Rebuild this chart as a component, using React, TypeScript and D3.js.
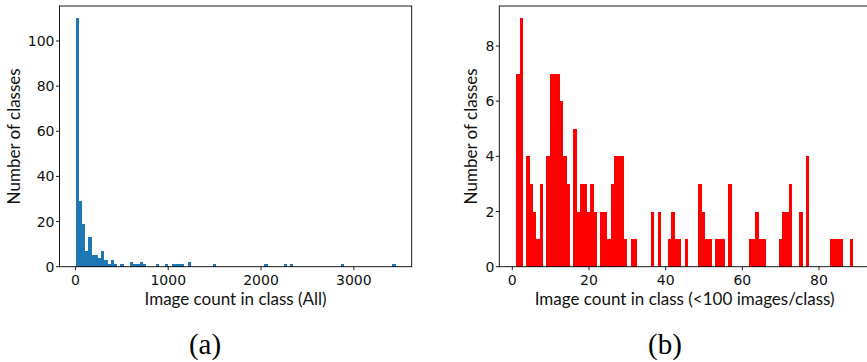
import * as d3 from "d3";

// histogram (a): all classes, 100 equal bins over the image-count range
const allRange: [number, number] = [1, 3451];
const allCounts = [
  110, 29, 19, 7, 13, 5, 5, 4, 7, 3,
  1, 3, 1, 0, 1, 0, 0, 2, 1, 1,
  2, 1, 0, 0, 0, 1, 0, 0, 1, 0,
  1, 1, 1, 1, 0, 2, 0, 0, 0, 0,
  0, 0, 0, 1, 0, 0, 0, 0, 0, 0,
  0, 0, 0, 0, 0, 0, 0, 0, 0, 1,
  0, 0, 0, 0, 0, 1, 0, 1, 0, 0,
  0, 0, 0, 0, 0, 0, 0, 0, 0, 0,
  0, 0, 0, 1, 0, 0, 0, 0, 0, 0,
  0, 0, 0, 0, 0, 0, 0, 0, 0, 1,
];
const allXTicks = [0, 1000, 2000, 3000];
const allYTicks = [0, 20, 40, 60, 80, 100];

// histogram (b): classes with fewer than 100 images
const smallRange: [number, number] = [1, 88.9];
const smallCounts = [
  7, 9, 0, 4, 3, 2, 1, 3, 0, 4,
  7, 7, 7, 6, 4, 3, 0, 5, 2, 3,
  3, 2, 3, 2, 0, 2, 2, 1, 3, 4,
  4, 4, 1, 0, 1, 1, 0, 0, 0, 0,
  2, 0, 2, 0, 0, 1, 2, 1, 1, 0,
  1, 0, 0, 0, 3, 2, 1, 1, 0, 1,
  1, 1, 0, 3, 0, 0, 0, 0, 0, 1,
  1, 2, 1, 1, 0, 0, 0, 0, 1, 2,
  2, 3, 0, 0, 2, 0, 4, 0, 0, 0,
  0, 0, 0, 1, 1, 1, 1, 0, 0, 1,
];
const smallXTicks = [0, 20, 40, 60, 80];
const smallYTicks = [0, 2, 4, 6, 8];

const FONT = "'DejaVu Sans', sans-serif";
const LABEL_FONT = "Lato, sans-serif";

type PanelProps = {
  counts: number[];
  range: [number, number];
  color: string;
  left: number;
  right: number;
  xTicks: number[];
  yTicks: number[];
  xLabel: string;
  yLabelX: number;
  caption: string;
  captionX: number;
};

const top = 6;
const bottom = 266.7;

function Histogram({
  counts, range, color, left, right, xTicks, yTicks, xLabel, yLabelX, caption, captionX,
}: PanelProps) {
  const [lo, hi] = range;
  const pad = (hi - lo) * 0.05;
  const x = d3.scaleLinear().domain([lo - pad, hi + pad]).range([left, right]);
  const y = d3
    .scaleLinear()
    .domain([0, (d3.max(counts) || 0) * 1.05])
    .range([bottom, top]);
  const binW = (hi - lo) / counts.length;
  const midX = (left + right) / 2;

  return (
    <g>
      {counts.map((c, i) =>
        c > 0 ? (
          <rect
            key={i}
            x={x(lo + i * binW)}
            y={y(c)}
            width={x(lo + (i + 1) * binW) - x(lo + i * binW)}
            height={bottom - y(c)}
            fill={color}
            shapeRendering="crispEdges"
          />
        ) : null
      )}
      <rect
        x={left}
        y={top}
        width={right - left}
        height={bottom - top}
        fill="none"
        stroke="#000"
        strokeWidth={0.9}
      />
      {xTicks.map((t) => (
        <g key={t} transform={`translate(${x(t)},${bottom})`}>
          <line y2={3.5} stroke="#000" strokeWidth={0.9} />
          <text y={18.5} textAnchor="middle" fontFamily={FONT} fontSize={14} fill="#111">
            {t}
          </text>
        </g>
      ))}
      {yTicks.map((t) => (
        <g key={t} transform={`translate(${left},${y(t)})`}>
          <line x2={-3.5} stroke="#000" strokeWidth={0.9} />
          <text x={-5} dy="0.36em" textAnchor="end" fontFamily={FONT} fontSize={14} fill="#111">
            {t}
          </text>
        </g>
      ))}
      <text x={midX} y={305} textAnchor="middle" fontFamily={LABEL_FONT} fontSize={17} fill="#111">
        {xLabel}
      </text>
      <text
        transform={`translate(${yLabelX},${(top + bottom) / 2}) rotate(-90)`}
        dy="0.36em"
        textAnchor="middle"
        fontFamily={LABEL_FONT}
        fontSize={17}
        fill="#111"
      >
        Number of classes
      </text>
      <text
        x={captionX}
        y={354}
        textAnchor="middle"
        fontFamily="'Liberation Serif', serif"
        fontSize={29}
        fill="#000"
      >
        {caption}
      </text>
    </g>
  );
}

export default function App() {
  return (
    <svg
      width={867}
      height={362}
      style={{ position: "absolute", left: 0, top: 0, background: "#fff" }}
    >
      <rect width={867} height={362} fill="#fff" />
      <Histogram
        counts={allCounts}
        range={allRange}
        color="#1f77b4"
        left={59.5}
        right={411.7}
        xTicks={allXTicks}
        yTicks={allYTicks}
        xLabel="Image count in class (All)"
        yLabelX={13.5}
        caption="(a)"
        captionX={205}
      />
      <Histogram
        counts={smallCounts}
        range={smallRange}
        color="#ff0000"
        left={499.3}
        right={870}
        xTicks={smallXTicks}
        yTicks={smallYTicks}
        xLabel="Image count in class (<100 images/class)"
        yLabelX={471}
        caption="(b)"
        captionX={665}
      />
    </svg>
  );
}
